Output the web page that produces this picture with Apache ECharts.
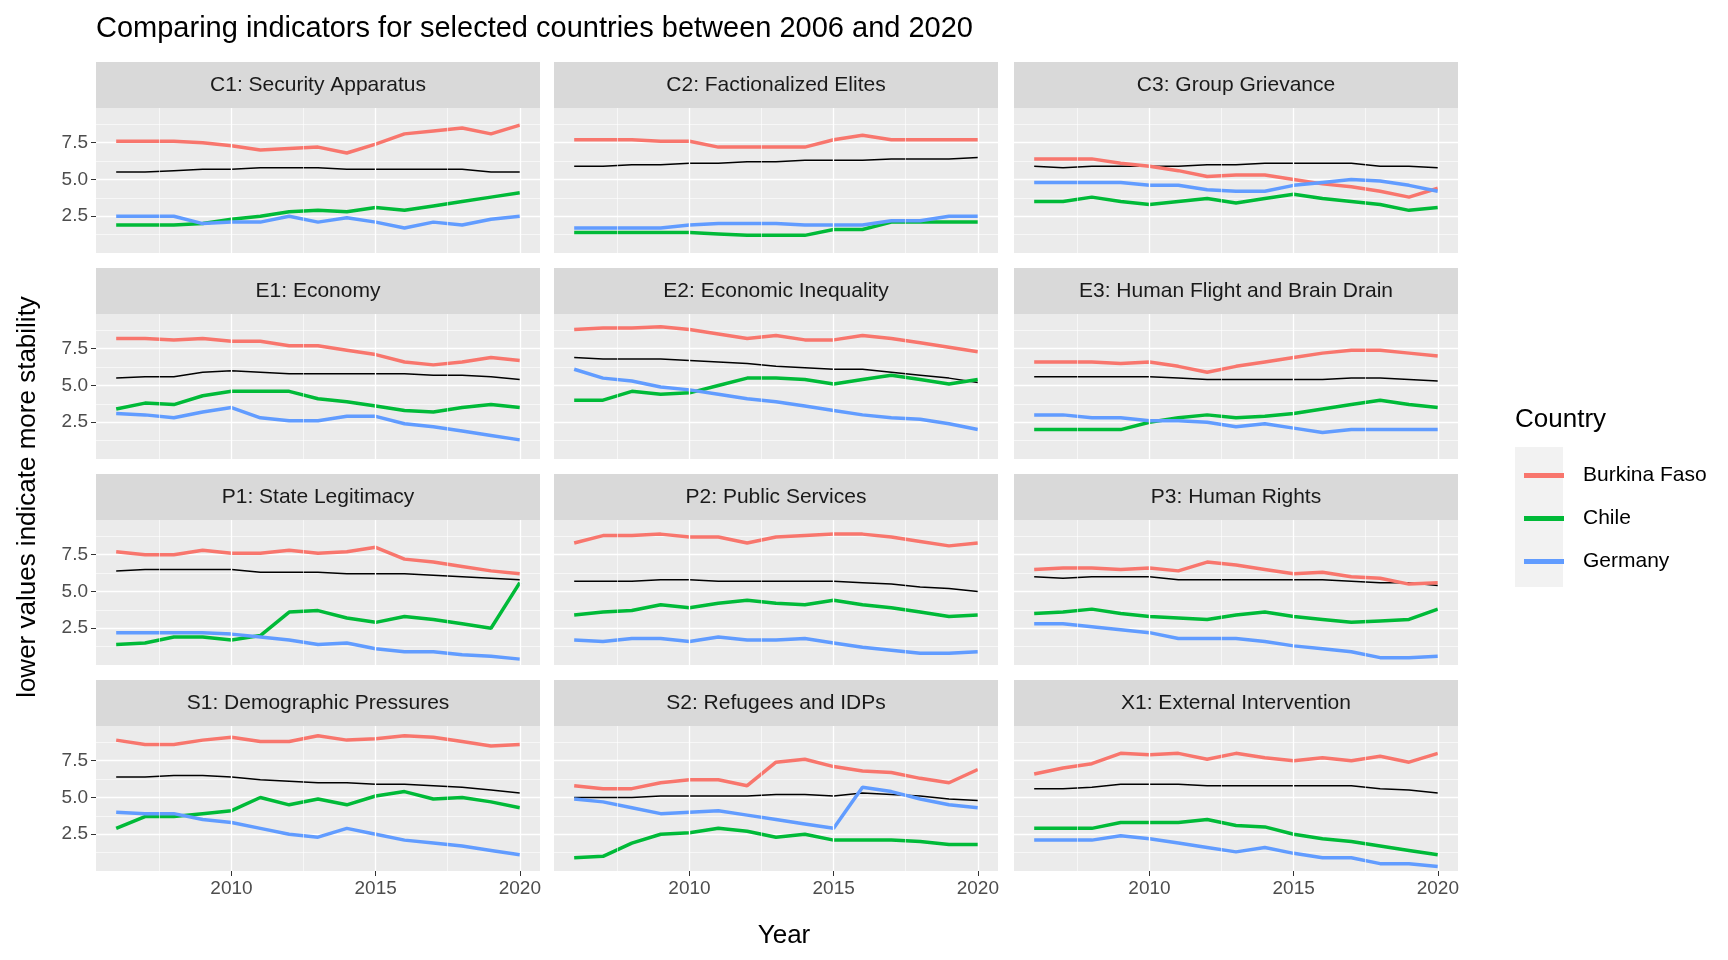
<!DOCTYPE html>
<html>
<head>
<meta charset="utf-8">
<script src="https://cdn.jsdelivr.net/npm/echarts@6/dist/echarts.min.js"></script>
<style>
  html, body { margin: 0; padding: 0; background: #fff; }
  #chart { width: 1728px; height: 960px; }
</style>
</head>
<body>
<div id="chart"></div>
<script>
// years 2006..2020
const years = [2006, 2007, 2008, 2009, 2010, 2011, 2012, 2013, 2014, 2015, 2016, 2017, 2018, 2019, 2020];
const countries = ['Burkina Faso', 'Chile', 'Germany'];
const panelTitles = [
  'C1: Security Apparatus', 'C2: Factionalized Elites', 'C3: Group Grievance',
  'E1: Economy', 'E2: Economic Inequality', 'E3: Human Flight and Brain Drain',
  'P1: State Legitimacy', 'P2: Public Services', 'P3: Human Rights',
  'S1: Demographic Pressures', 'S2: Refugees and IDPs', 'X1: External Intervention'
];

const burkinaFaso = [
  [7.6, 7.6, 7.6, 7.5, 7.3, 7.0, 7.1, 7.2, 6.8, 7.4, 8.1, 8.3, 8.5, 8.1, 8.7],
  [7.7, 7.7, 7.7, 7.6, 7.6, 7.2, 7.2, 7.2, 7.2, 7.7, 8.0, 7.7, 7.7, 7.7, 7.7],
  [6.4, 6.4, 6.4, 6.1, 5.9, 5.6, 5.2, 5.3, 5.3, 5.0, 4.7, 4.5, 4.2, 3.8, 4.4],
  [8.2, 8.2, 8.1, 8.2, 8.0, 8.0, 7.7, 7.7, 7.4, 7.1, 6.6, 6.4, 6.6, 6.9, 6.7],
  [8.8, 8.9, 8.9, 9.0, 8.8, 8.5, 8.2, 8.4, 8.1, 8.1, 8.4, 8.2, 7.9, 7.6, 7.3],
  [6.6, 6.6, 6.6, 6.5, 6.6, 6.3, 5.9, 6.3, 6.6, 6.9, 7.2, 7.4, 7.4, 7.2, 7.0],
  [7.7, 7.5, 7.5, 7.8, 7.6, 7.6, 7.8, 7.6, 7.7, 8.0, 7.2, 7.0, 6.7, 6.4, 6.2],
  [8.3, 8.8, 8.8, 8.9, 8.7, 8.7, 8.3, 8.7, 8.8, 8.9, 8.9, 8.7, 8.4, 8.1, 8.3],
  [6.5, 6.6, 6.6, 6.5, 6.6, 6.4, 7.0, 6.8, 6.5, 6.2, 6.3, 6.0, 5.9, 5.5, 5.6],
  [8.9, 8.6, 8.6, 8.9, 9.1, 8.8, 8.8, 9.2, 8.9, 9.0, 9.2, 9.1, 8.8, 8.5, 8.6],
  [5.8, 5.6, 5.6, 6.0, 6.2, 6.2, 5.8, 7.4, 7.6, 7.1, 6.8, 6.7, 6.3, 6.0, 6.9],
  [6.6, 7.0, 7.3, 8.0, 7.9, 8.0, 7.6, 8.0, 7.7, 7.5, 7.7, 7.5, 7.8, 7.4, 8.0]
];
const chile = [
  [1.9, 1.9, 1.9, 2.0, 2.3, 2.5, 2.8, 2.9, 2.8, 3.1, 2.9, 3.2, 3.5, 3.8, 4.1],
  [1.4, 1.4, 1.4, 1.4, 1.4, 1.3, 1.2, 1.2, 1.2, 1.6, 1.6, 2.1, 2.1, 2.1, 2.1],
  [3.5, 3.5, 3.8, 3.5, 3.3, 3.5, 3.7, 3.4, 3.7, 4.0, 3.7, 3.5, 3.3, 2.9, 3.1],
  [3.4, 3.8, 3.7, 4.3, 4.6, 4.6, 4.6, 4.1, 3.9, 3.6, 3.3, 3.2, 3.5, 3.7, 3.5],
  [4.0, 4.0, 4.6, 4.4, 4.5, 5.0, 5.5, 5.5, 5.4, 5.1, 5.4, 5.7, 5.4, 5.1, 5.4],
  [2.0, 2.0, 2.0, 2.0, 2.5, 2.8, 3.0, 2.8, 2.9, 3.1, 3.4, 3.7, 4.0, 3.7, 3.5],
  [1.4, 1.5, 1.9, 1.9, 1.7, 2.0, 3.6, 3.7, 3.2, 2.9, 3.3, 3.1, 2.8, 2.5, 5.6],
  [3.4, 3.6, 3.7, 4.1, 3.9, 4.2, 4.4, 4.2, 4.1, 4.4, 4.1, 3.9, 3.6, 3.3, 3.4],
  [3.5, 3.6, 3.8, 3.5, 3.3, 3.2, 3.1, 3.4, 3.6, 3.3, 3.1, 2.9, 3.0, 3.1, 3.8],
  [2.9, 3.7, 3.7, 3.9, 4.1, 5.0, 4.5, 4.9, 4.5, 5.1, 5.4, 4.9, 5.0, 4.7, 4.3],
  [0.9, 1.0, 1.9, 2.5, 2.6, 2.9, 2.7, 2.3, 2.5, 2.1, 2.1, 2.1, 2.0, 1.8, 1.8],
  [2.9, 2.9, 2.9, 3.3, 3.3, 3.3, 3.5, 3.1, 3.0, 2.5, 2.2, 2.0, 1.7, 1.4, 1.1]
];
const germany = [
  [2.5, 2.5, 2.5, 2.0, 2.1, 2.1, 2.5, 2.1, 2.4, 2.1, 1.7, 2.1, 1.9, 2.3, 2.5],
  [1.7, 1.7, 1.7, 1.7, 1.9, 2.0, 2.0, 2.0, 1.9, 1.9, 1.9, 2.2, 2.2, 2.5, 2.5],
  [4.8, 4.8, 4.8, 4.8, 4.6, 4.6, 4.3, 4.2, 4.2, 4.6, 4.8, 5.0, 4.9, 4.6, 4.2],
  [3.1, 3.0, 2.8, 3.2, 3.5, 2.8, 2.6, 2.6, 2.9, 2.9, 2.4, 2.2, 1.9, 1.6, 1.3],
  [6.1, 5.5, 5.3, 4.9, 4.7, 4.4, 4.1, 3.9, 3.6, 3.3, 3.0, 2.8, 2.7, 2.4, 2.0],
  [3.0, 3.0, 2.8, 2.8, 2.6, 2.6, 2.5, 2.2, 2.4, 2.1, 1.8, 2.0, 2.0, 2.0, 2.0],
  [2.2, 2.2, 2.2, 2.2, 2.1, 1.9, 1.7, 1.4, 1.5, 1.1, 0.9, 0.9, 0.7, 0.6, 0.4],
  [1.7, 1.6, 1.8, 1.8, 1.6, 1.9, 1.7, 1.7, 1.8, 1.5, 1.2, 1.0, 0.8, 0.8, 0.9],
  [2.8, 2.8, 2.6, 2.4, 2.2, 1.8, 1.8, 1.8, 1.6, 1.3, 1.1, 0.9, 0.5, 0.5, 0.6],
  [4.0, 3.9, 3.9, 3.5, 3.3, 2.9, 2.5, 2.3, 2.9, 2.5, 2.1, 1.9, 1.7, 1.4, 1.1],
  [4.9, 4.7, 4.3, 3.9, 4.0, 4.1, 3.8, 3.5, 3.2, 2.9, 5.7, 5.4, 4.9, 4.5, 4.3],
  [2.1, 2.1, 2.1, 2.4, 2.2, 1.9, 1.6, 1.3, 1.6, 1.2, 0.9, 0.9, 0.5, 0.5, 0.3]
];
// average over all countries (black line)
const average = [
  [5.5, 5.5, 5.6, 5.7, 5.7, 5.8, 5.8, 5.8, 5.7, 5.7, 5.7, 5.7, 5.7, 5.5, 5.5],
  [5.9, 5.9, 6.0, 6.0, 6.1, 6.1, 6.2, 6.2, 6.3, 6.3, 6.3, 6.4, 6.4, 6.4, 6.5],
  [5.9, 5.8, 5.9, 5.9, 5.9, 5.9, 6.0, 6.0, 6.1, 6.1, 6.1, 6.1, 5.9, 5.9, 5.8],
  [5.5, 5.6, 5.6, 5.9, 6.0, 5.9, 5.8, 5.8, 5.8, 5.8, 5.8, 5.7, 5.7, 5.6, 5.4],
  [6.9, 6.8, 6.8, 6.8, 6.7, 6.6, 6.5, 6.3, 6.2, 6.1, 6.1, 5.9, 5.7, 5.5, 5.2],
  [5.6, 5.6, 5.6, 5.6, 5.6, 5.5, 5.4, 5.4, 5.4, 5.4, 5.4, 5.5, 5.5, 5.4, 5.3],
  [6.4, 6.5, 6.5, 6.5, 6.5, 6.3, 6.3, 6.3, 6.2, 6.2, 6.2, 6.1, 6.0, 5.9, 5.8],
  [5.7, 5.7, 5.7, 5.8, 5.8, 5.7, 5.7, 5.7, 5.7, 5.7, 5.6, 5.5, 5.3, 5.2, 5.0],
  [6.0, 5.9, 6.0, 6.0, 6.0, 5.8, 5.8, 5.8, 5.8, 5.8, 5.8, 5.7, 5.6, 5.6, 5.4],
  [6.4, 6.4, 6.5, 6.5, 6.4, 6.2, 6.1, 6.0, 6.0, 5.9, 5.9, 5.8, 5.7, 5.5, 5.3],
  [5.0, 5.0, 5.0, 5.1, 5.1, 5.1, 5.1, 5.2, 5.2, 5.1, 5.3, 5.2, 5.1, 4.9, 4.8],
  [5.6, 5.6, 5.7, 5.9, 5.9, 5.9, 5.8, 5.8, 5.8, 5.8, 5.8, 5.8, 5.6, 5.5, 5.3]
];
const yTicks = [2.5, 5.0, 7.5];
const xTicks = [2010, 2015, 2020];
const xMinor = [2007.5, 2012.5, 2017.5];

const colors = ['#F8766D', '#00BA38', '#619CFF'];
const FONT = 'Liberation Sans, Arial, sans-serif';
const colLeft = [96, 554, 1014];
const panelW = 444;
const rowTop = [62, 268, 474, 680];
const stripH = 46;
const plotH = 145;

const chart = echarts.init(document.getElementById('chart'));
const grids = [], xAxes = [], yAxes = [], series = [], graphics = [];

panelTitles.forEach((name, i) => {
  const r = Math.floor(i / 3), c = i % 3;
  const top = rowTop[r] + stripH;
  grids.push({
    left: colLeft[c], top: top, width: panelW, height: plotH,
    show: true, backgroundColor: '#EBEBEB', borderWidth: 0
  });
  xAxes.push({
    type: 'value', gridIndex: i, min: 2005.3, max: 2020.7,
    axisLine: { show: false },
    splitLine: { show: false },
    axisTick: { show: r === 3, customValues: xTicks, length: 5, lineStyle: { color: '#333' } },
    axisLabel: {
      show: r === 3, customValues: xTicks, color: '#4D4D4D', fontSize: 19, fontFamily: FONT, margin: 8,
      formatter: v => String(v)
    }
  });
  yAxes.push({
    type: 'value', gridIndex: i, min: 0, max: 9.86, interval: 2.5,
    axisLine: { show: false },
    axisTick: { show: c === 0, customValues: yTicks, length: 5, lineStyle: { color: '#333' } },
    axisLabel: {
      show: c === 0, customValues: yTicks, color: '#4D4D4D', fontSize: 19, fontFamily: FONT, margin: 8,
      formatter: v => Number(v).toFixed(1)
    },
    splitLine: { show: true, lineStyle: { color: '#fff', width: 1.3 } },
    minorTick: { show: false, splitNumber: 2 },
    minorSplitLine: { show: true, lineStyle: { color: '#fff', width: 0.6 } }
  });
  // vertical grid lines
  series.push({
    type: 'line', xAxisIndex: i, yAxisIndex: i, data: [], z: 1, silent: true,
    markLine: {
      silent: true, symbol: ['none', 'none'], label: { show: false }, animation: false,
      data: xTicks.map(x => ({ xAxis: x, lineStyle: { color: '#fff', width: 1.3, type: 'solid' } }))
        .concat(xMinor.map(x => ({ xAxis: x, lineStyle: { color: '#fff', width: 0.6, type: 'solid' } })))
    }
  });
  series.push({
    type: 'line', xAxisIndex: i, yAxisIndex: i, showSymbol: false, z: 3,
    lineStyle: { color: '#000', width: 1.5 }, itemStyle: { color: '#000' },
    data: years.map((y, k) => [y, average[i][k]])
  });
  [burkinaFaso, chile, germany].forEach((arr, s) => {
    series.push({
      name: countries[s], type: 'line', xAxisIndex: i, yAxisIndex: i, showSymbol: false, z: 4,
      lineStyle: { color: colors[s], width: 3.5 }, itemStyle: { color: colors[s] },
      data: years.map((y, k) => [y, arr[i][k]])
    });
  });
  graphics.push({
    type: 'rect', shape: { x: colLeft[c], y: rowTop[r], width: panelW, height: stripH },
    style: { fill: '#D9D9D9' }, silent: true
  });
  graphics.push({
    type: 'text', x: colLeft[c] + panelW / 2, y: rowTop[r] + stripH / 2,
    style: { text: name, fill: '#1A1A1A', font: '21px ' + FONT, align: 'center', verticalAlign: 'middle' }
  });
});

graphics.push({
  type: 'text', x: 96, y: 29,
  style: { text: 'Comparing indicators for selected countries between 2006 and 2020', fill: '#000', font: '29px ' + FONT, verticalAlign: 'middle' }
});
graphics.push({
  type: 'text', x: 784, y: 936,
  style: { text: 'Year', fill: '#000', font: '26px ' + FONT, align: 'center', verticalAlign: 'middle' }
});
graphics.push({
  type: 'text', x: 28, y: 497, rotation: Math.PI / 2,
  style: { text: 'lower values indicate more stability', fill: '#000', font: '26px ' + FONT, align: 'center', verticalAlign: 'middle' }
});
graphics.push({
  type: 'text', x: 1515, y: 420,
  style: { text: 'Country', fill: '#000', font: '26px ' + FONT, verticalAlign: 'middle' }
});
graphics.push({
  type: 'rect', shape: { x: 1515, y: 447, width: 48, height: 140 },
  style: { fill: '#F2F2F2' }, silent: true
});

chart.setOption({
  animation: false,
  grid: grids,
  xAxis: xAxes,
  yAxis: yAxes,
  series: series,
  graphic: graphics,
  legend: {
    data: countries, orient: 'vertical', left: 1519, top: 460,
    icon: 'rect', itemWidth: 40, itemHeight: 5, itemGap: 22,
    textStyle: { fontSize: 21, fontFamily: FONT, color: '#000', padding: [0, 0, 0, 14] }
  }
});
</script>
</body>
</html>
